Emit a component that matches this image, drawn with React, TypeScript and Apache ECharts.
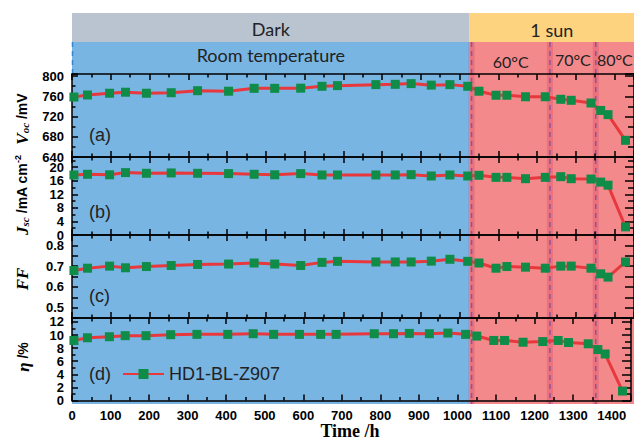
import React, { useEffect, useRef } from 'react';
import * as echarts from 'echarts';

// ---- data ----
const TIME = [5, 40, 97, 138, 192, 256, 324, 404, 470, 523, 590, 645, 685, 784, 834, 875, 927, 975, 1021, 1050, 1094, 1122, 1170, 1221, 1261, 1288, 1339, 1364, 1383, 1428];
const VOC = [758.5, 762.5, 766, 768, 766, 767, 771, 770, 775.7, 775.7, 776, 779.7, 781, 783, 783.6, 785, 782, 783, 779.7, 770, 762, 762, 759, 759, 754, 752, 746.7, 732, 723.7, 673];
const JSC = [17.7, 17.9, 17.75, 18.4, 18.2, 18.3, 18.2, 18.1, 17.9, 17.75, 18.1, 17.7, 17.7, 17.7, 17.7, 17.8, 17.4, 17.7, 17.4, 17.6, 17.0, 17.0, 16.6, 17.0, 17.2, 16.6, 16.5, 15.6, 14.7, 2.4];
const FF = [0.679, 0.69, 0.7, 0.692, 0.698, 0.703, 0.708, 0.71, 0.715, 0.71, 0.703, 0.718, 0.723, 0.72, 0.72, 0.72, 0.724, 0.733, 0.723, 0.715, 0.69, 0.698, 0.695, 0.69, 0.7, 0.7, 0.69, 0.663, 0.647, 0.72];
const ETA = [9.17, 9.58, 9.74, 9.9, 9.9, 10.05, 10.1, 10.1, 10.2, 10.1, 10.1, 10.1, 10.1, 10.2, 10.2, 10.25, 10.2, 10.3, 10.1, 9.84, 9.17, 9.17, 8.9, 9.0, 9.17, 8.86, 8.66, 7.78, 7.1, 1.44];

const SERIES_NAMES = ['Voc', 'Jsc', 'FF', 'HD1-BL-Z907'];
const PANEL_TAGS = ['(a)', '(b)', '(c)', '(d)'];
const X_TICK_LABELS = [0, 100, 200, 300, 400, 500, 600, 700, 800, 900, 1000, 1100, 1200, 1300, 1400];

// condition boundaries (hours)
const SUN_START = 1015;
const TEMP_LINES = [1020, 1220, 1337];
const TEMP_LABELS = ['60°C', '70°C', '80°C'];
const X_MAX = 1450;

// ---- layout ----
const LEFT = 72;
const PLOT_W = 568;
const sx = (t: number) => LEFT + (t * PLOT_W) / X_MAX;
const PANEL_TOPS = [74, 157, 235, 318];
const PANEL_HEIGHTS = [83, 78, 83, 82.5];

const AXES = [
  { min: 640, max: 804, interval: 40, minor: 2, step: 40, labelMax: 800, dec: 0 },
  { min: 0, max: 23, interval: 4, minor: 2, step: 4, labelMax: 20, dec: 0 },
  { min: 0.45, max: 0.85, interval: 0.05, minor: 0, step: 0.1, labelMax: 0.8, dec: 1 },
  { min: 0, max: 12.6, interval: 2, minor: 2, step: 2, labelMax: 12, dec: 0 },
];
const VALUES = [VOC, JSC, FF, ETA];

const BLACK = '#000';
const LABEL_FONT = 'Liberation Sans, Arial, sans-serif';

function buildOption() {
  const grid: any[] = [];
  const xAxis: any[] = [];
  const yAxis: any[] = [];
  const series: any[] = [];

  for (let i = 0; i < 4; i++) {
    grid.push({ left: LEFT, top: PANEL_TOPS[i], width: PLOT_W, height: PANEL_HEIGHTS[i], containLabel: false });
    const ax = AXES[i];
    for (const pos of ['bottom', 'top']) {
      xAxis.push({
        gridIndex: i,
        type: 'value',
        position: pos,
        min: 0,
        max: X_MAX,
        interval: 100,
        axisLine: { show: true, onZero: false, lineStyle: { color: BLACK, width: 1.5 } },
        axisTick: { show: true, inside: true, length: 6, lineStyle: { color: BLACK, width: 1.5 } },
        minorTick: { show: true, splitNumber: 2, length: 3.5, lineStyle: { color: BLACK, width: 1.5 } },
        splitLine: { show: false },
        minorSplitLine: { show: false },
        axisLabel: {
          show: i === 3 && pos === 'bottom',
          margin: 8,
          fontSize: 13,
          fontWeight: 'bold',
          fontFamily: LABEL_FONT,
          color: BLACK,
          formatter: (v: number) => (X_TICK_LABELS.includes(Math.round(v)) && Math.abs(v - Math.round(v)) < 1e-6 ? String(Math.round(v)) : ''),
        },
      });
    }
    for (const pos of ['left', 'right']) {
      yAxis.push({
        gridIndex: i,
        type: 'value',
        position: pos,
        min: ax.min,
        max: ax.max,
        interval: ax.interval,
        axisLine: { show: true, onZero: false, lineStyle: { color: BLACK, width: 1.5 } },
        axisTick: { show: true, inside: true, length: pos === 'left' ? 6 : 9, lineStyle: { color: BLACK, width: 1.5 } },
        minorTick: { show: ax.minor > 0, splitNumber: ax.minor || 2, length: pos === 'left' ? 3.5 : 6, lineStyle: { color: BLACK, width: 1.5 } },
        splitLine: { show: false },
        minorSplitLine: { show: false },
        axisLabel: {
          show: pos === 'left',
          margin: 8,
          fontSize: 13,
          fontWeight: 'bold',
          fontFamily: LABEL_FONT,
          color: BLACK,
          lineHeight: 12,
          formatter: (v: number) => {
            const k = v / ax.step;
            if (Math.abs(k - Math.round(k)) > 1e-6 || v > ax.labelMax + 1e-9) return '';
            return (Math.round(k) * ax.step).toFixed(ax.dec);
          },
        },
      });
    }
    series.push({
      name: SERIES_NAMES[i],
      type: 'line',
      xAxisIndex: 2 * i,
      yAxisIndex: 2 * i,
      data: TIME.map((t, j) => [t, VALUES[i][j]]),
      symbol: 'rect',
      symbolSize: 9,
      itemStyle: { color: '#0f8c48' },
      lineStyle: { color: '#e8383d', width: 3 },
      z: 5,
    });
  }

  const TOP_BAND = 13;
  const BAND_SPLIT = 42;
  const REGION_BOTTOM = 404;
  const sunX = sx(SUN_START);

  const graphic: any[] = [
    { type: 'rect', z: -3, shape: { x: LEFT, y: TOP_BAND, width: sunX - LEFT, height: BAND_SPLIT - TOP_BAND }, style: { fill: '#b9c4d0' } },
    { type: 'rect', z: -3, shape: { x: sunX, y: TOP_BAND, width: 634 - sunX, height: BAND_SPLIT - TOP_BAND }, style: { fill: '#fdd380' } },
    { type: 'rect', z: -3, shape: { x: LEFT, y: BAND_SPLIT, width: sunX - LEFT, height: REGION_BOTTOM - BAND_SPLIT }, style: { fill: '#78b5e3' } },
    { type: 'rect', z: -3, shape: { x: sunX, y: BAND_SPLIT, width: 634 - sunX, height: REGION_BOTTOM - BAND_SPLIT }, style: { fill: '#f4898c' } },
    { type: 'line', z: -1, shape: { x1: LEFT + 0.5, y1: BAND_SPLIT, x2: LEFT + 0.5, y2: PANEL_TOPS[0] }, style: { stroke: '#2e86d6', lineWidth: 1.5, lineDash: [5, 4] } },
  ];
  TEMP_LINES.forEach((t) => {
    const x = sx(t);
    graphic.push({ type: 'line', z: -2, shape: { x1: x, y1: BAND_SPLIT, x2: x, y2: REGION_BOTTOM }, style: { stroke: 'rgba(214,70,100,0.35)', lineWidth: 6 } });
    graphic.push({ type: 'line', z: -1, shape: { x1: x, y1: BAND_SPLIT, x2: x, y2: REGION_BOTTOM }, style: { stroke: '#86589a', lineWidth: 1.5, lineDash: [5, 4] } });
  });

  const headerText = (text: string, x: number, y: number, size: number) => ({
    type: 'text',
    z: 10,
    x,
    y,
    style: { text, fill: '#222', fontSize: size, fontFamily: 'Lato, Open Sans, sans-serif', align: 'center', verticalAlign: 'middle', textAlign: 'center', textVerticalAlign: 'middle' },
  });
  graphic.push(headerText('Dark', (LEFT + sunX) / 2, 29, 18));
  graphic.push(headerText('1 sun', (sunX + 634) / 2, 30, 18));
  graphic.push(headerText('Room temperature', (LEFT + sunX) / 2, 55, 18));
  const bounds = [...TEMP_LINES, X_MAX];
  TEMP_LABELS.forEach((lab, k) => {
    const cx = (sx(bounds[k]) + Math.min(634, sx(bounds[k + 1]))) / 2;
    graphic.push(headerText(lab, cx, k === 0 ? 61 : 59, 16));
  });

  // panel tags
  const TAG_Y = [135, 212, 296, 374];
  PANEL_TAGS.forEach((tag, k) => {
    graphic.push({
      type: 'text', z: 10, x: 89, y: TAG_Y[k],
      style: { text: tag, fill: '#222', fontSize: 18, fontFamily: LABEL_FONT, align: 'left', verticalAlign: 'middle', textAlign: 'left', textVerticalAlign: 'middle' },
    });
  });

  // axis titles
  const serif = 'Liberation Serif, Times New Roman, serif';
  const titleRich = {
    i: { fontFamily: serif, fontStyle: 'italic', fontWeight: 'bold', fontSize: 17, fill: BLACK },
    s: { fontFamily: serif, fontStyle: 'italic', fontWeight: 'bold', fontSize: 11, fill: BLACK, verticalAlign: 'bottom' },
    u: { fontFamily: LABEL_FONT, fontWeight: 'bold', fontSize: 14, fill: BLACK },
    p: { fontFamily: LABEL_FONT, fontWeight: 'bold', fontSize: 9, fill: BLACK, verticalAlign: 'top' },
  };
  const yTitle = (text: string, x: number, y: number) => ({
    type: 'text', z: 10, x, y, rotation: Math.PI / 2,
    style: { text, rich: titleRich, align: 'center', verticalAlign: 'middle', textAlign: 'center', textVerticalAlign: 'middle' },
  });
  graphic.push(yTitle('{i|V}{s|oc}{u| /mV}', 22, 119));
  graphic.push(yTitle('{i|J}{s|sc}{u| /mA cm}{p|-2}', 22, 195));
  graphic.push(yTitle('{i|FF}', 22, 279));
  graphic.push(yTitle('{i|η}{u| /%}', 23, 357));
  graphic.push({
    type: 'text', z: 10, x: 350, y: 431,
    style: { text: 'Time /h', fill: BLACK, fontSize: 18, fontWeight: 'bold', fontFamily: serif, align: 'center', verticalAlign: 'middle', textAlign: 'center', textVerticalAlign: 'middle' },
  });

  return {
    animation: false,
    backgroundColor: '#fff',
    grid,
    xAxis,
    yAxis,
    series,
    legend: {
      data: [SERIES_NAMES[3]],
      left: 122,
      top: 365,
      padding: 0,
      itemWidth: 41,
      itemHeight: 12.5,
      selectedMode: false,
      textStyle: { fontSize: 18, color: '#222', fontFamily: LABEL_FONT },
    },
    graphic,
  };
}

export default function App() {
  const ref = useRef<HTMLDivElement>(null);
  useEffect(() => {
    const chart = echarts.init(ref.current!, undefined, { renderer: 'svg' });
    chart.setOption(buildOption() as any);
    return () => chart.dispose();
  }, []);
  return <div ref={ref} style={{ position: 'fixed', left: 0, top: 0, width: 634, height: 443, background: '#fff' }} />;
}
